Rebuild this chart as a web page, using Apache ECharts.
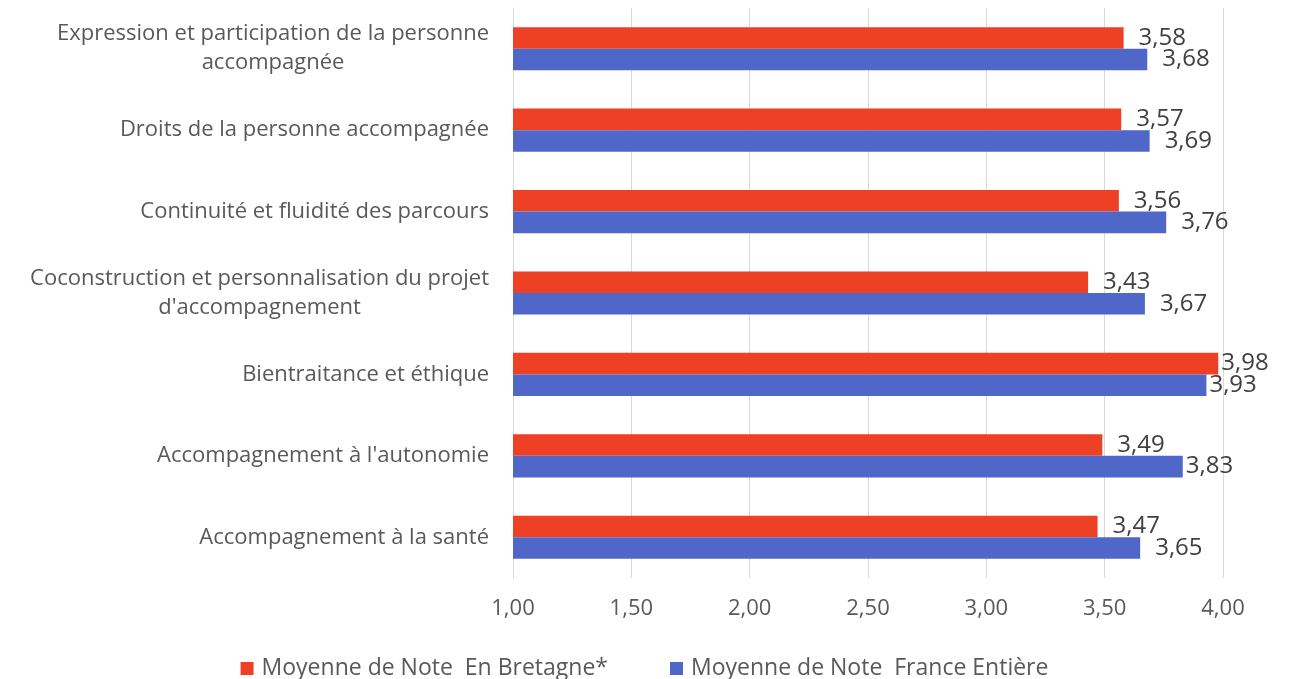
<!DOCTYPE html>
<html>
<head>
<meta charset="utf-8">
<script src="https://cdn.jsdelivr.net/npm/echarts@6/dist/echarts.min.js"></script>
<style>
  html, body { margin: 0; padding: 0; background: #fff; }
  #chart { width: 1289px; height: 679px; }
</style>
</head>
<body>
<div id="chart"></div>
<script>
// categories top to bottom
const categories = [
  'Expression et participation de la personne\naccompagnée',
  'Droits de la personne accompagnée',
  'Continuité et fluidité des parcours',
  'Coconstruction et personnalisation du projet\nd\'accompagnement',
  'Bientraitance et éthique',
  'Accompagnement à l\'autonomie',
  'Accompagnement à la santé'
]
const bretagne = [3.58, 3.57, 3.56, 3.43, 3.98, 3.49, 3.47]
const france = [3.68, 3.69, 3.76, 3.67, 3.93, 3.83, 3.65]
const seriesNames = ['Moyenne de Note  En Bretagne*', 'Moyenne de Note  France Entière']

const font = 'Open Sans'
const fmt = v => v.toFixed(2).replace('.', ',')

// excel pulls the labels in when the bar gets close to the right edge
const withLabel = arr => arr.map(v => ({ value: v, label: { distance: v > 3.8 ? 3 : 15 } }))

const chart = echarts.init(document.getElementById('chart'))
chart.setOption({
  animation: false,
  color: ['#ee4024', '#4f67c9'],
  textStyle: { fontFamily: font },
  grid: { left: 513, right: 66, top: 8, bottom: 101 },
  legend: {
    top: 652,
    left: 'center',
    itemWidth: 13,
    itemHeight: 13,
    itemGap: 62,
    icon: 'rect',
    textStyle: { fontSize: 23, color: '#595959', fontFamily: font, padding: [0, 0, 0, 3] },
    data: seriesNames
  },
  xAxis: {
    type: 'value',
    min: 1,
    max: 4,
    interval: 0.5,
    axisLine: { show: false },
    axisTick: { show: false },
    axisLabel: { fontSize: 22, color: '#595959', margin: 20, formatter: fmt },
    splitLine: { lineStyle: { color: '#d9d9d9', width: 1 } }
  },
  yAxis: {
    type: 'category',
    inverse: true,
    data: categories,
    axisLine: { show: true, lineStyle: { color: '#d9d9d9' } },
    axisTick: { show: false },
    axisLabel: {
      fontSize: 22,
      color: '#595959',
      margin: 24,
      lineHeight: 29,
      formatter: v => v.split('\n').map(s => '{c|' + s + '}').join('\n'),
      rich: { c: { align: 'center', fontSize: 22, color: '#595959', lineHeight: 29, fontFamily: font } }
    }
  },
  series: [
    {
      name: seriesNames[0],
      type: 'bar',
      data: withLabel(bretagne),
      barGap: '0%',
      barCategoryGap: '47%',
      label: {
        show: true, position: 'right',
        fontSize: 24, color: '#404040', fontFamily: font,
        formatter: p => fmt(p.value)
      }
    },
    {
      name: seriesNames[1],
      type: 'bar',
      data: withLabel(france),
      barGap: '0%',
      barCategoryGap: '47%',
      label: {
        show: true, position: 'right',
        fontSize: 24, color: '#404040', fontFamily: font,
        formatter: p => fmt(p.value)
      }
    }
  ]
})
</script>
</body>
</html>
